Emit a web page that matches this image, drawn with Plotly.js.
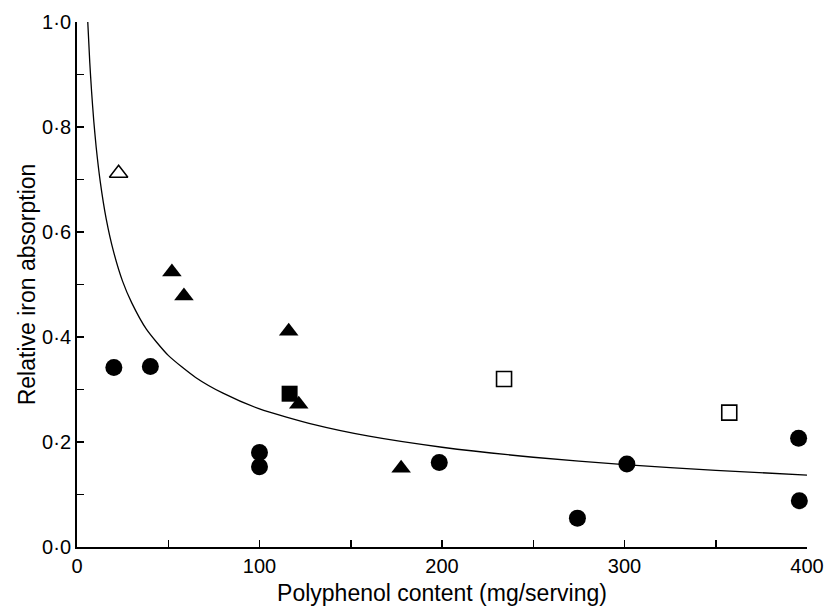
<!DOCTYPE html>
<html>
<head>
<meta charset="utf-8">
<script src="https://cdn.plot.ly/plotly-3.0.1.min.js"></script>
<style>
  html, body { margin: 0; padding: 0; background: #fff; }
  #chart { width: 827px; height: 606px; }
</style>
</head>
<body>
<div id="chart"></div>
<script>
// Filled circles
const circleX = [20.2, 40.2, 100, 100, 198.5, 274.2, 301.3, 395.4, 395.8];
const circleY = [0.342, 0.344, 0.180, 0.153, 0.161, 0.055, 0.158, 0.207, 0.088];
// Filled triangles
const triX = [52, 58.6, 116, 121.5, 177.6];
const triY = [0.524, 0.478, 0.411, 0.272, 0.150];
// Open triangle
const openTriX = [22.8];
const openTriY = [0.712];
// Filled square
const sqX = [116.5];
const sqY = [0.292];
// Open squares
const openSqX = [234, 357.4];
const openSqY = [0.320, 0.256];
// Fitted curve
const curveX = [5.9, 7, 8, 9.2, 10.5, 12.7, 16, 20, 25, 30, 38, 50, 65, 80, 100, 130, 160, 200, 250, 300, 350, 400];
const curveY = [1.000, 0.923, 0.867, 0.811, 0.762, 0.697, 0.625, 0.563, 0.506, 0.465, 0.415, 0.365, 0.323, 0.293, 0.263, 0.233, 0.211, 0.190, 0.171, 0.157, 0.146, 0.137];
// Tick labels
const xTickVals = [0, 100, 200, 300, 400];
const xTickText = ['0', '100', '200', '300', '400'];
const yTickVals = [0, 0.2, 0.4, 0.6, 0.8, 1.0];
const yTickText = ['0·0', '0·2', '0·4', '0·6', '0·8', '1·0'];

const FONT = 'Liberation Sans, Arial, Helvetica, sans-serif';

const traces = [
  { x: curveX, y: curveY, type: 'scatter', mode: 'lines', line: { color: '#000', width: 1.3, shape: 'spline', smoothing: 0.6 }, hoverinfo: 'skip', cliponaxis: false },
  { x: circleX, y: circleY, type: 'scatter', mode: 'markers', marker: { symbol: 'circle', size: 17, color: '#000', line: { width: 0 } }, cliponaxis: false },
  { x: triX, y: triY, type: 'scatter', mode: 'markers', marker: { symbol: 'triangle-up', size: 17, color: '#000', line: { width: 0 } }, cliponaxis: false },
  { x: openTriX, y: openTriY, type: 'scatter', mode: 'markers', marker: { symbol: 'triangle-up-open', size: 16, color: '#000', line: { width: 1.5, color: '#000' } }, cliponaxis: false },
  { x: sqX, y: sqY, type: 'scatter', mode: 'markers', marker: { symbol: 'square', size: 16, color: '#000', line: { width: 0 } }, cliponaxis: false },
  { x: openSqX, y: openSqY, type: 'scatter', mode: 'markers', marker: { symbol: 'square-open', size: 15, color: '#000', line: { width: 1.6, color: '#000' } }, cliponaxis: false }
];

const layout = {
  width: 827,
  height: 606,
  margin: { l: 77, r: 20, t: 22, b: 59 },
  paper_bgcolor: '#fff',
  plot_bgcolor: '#fff',
  showlegend: false,
  font: { family: FONT, color: '#000', size: 20 },
  xaxis: {
    range: [0, 400],
    showgrid: false,
    zeroline: false,
    showline: true,
    linecolor: '#000',
    linewidth: 2,
    ticks: 'inside',
    ticklen: 7,
    tickwidth: 1.5,
    tickcolor: '#000',
    tickvals: xTickVals,
    ticktext: xTickText,
    tickfont: { family: FONT, size: 20, color: '#000' },
    minor: { tickvals: [50, 150, 250, 350], ticks: 'inside', ticklen: 7, tickwidth: 1.5, tickcolor: '#000' },
    title: { text: 'Polyphenol content (mg/serving)', font: { family: FONT, size: 23, color: '#000' }, standoff: 10 },
    automargin: false,
    fixedrange: true
  },
  yaxis: {
    range: [0, 1],
    showgrid: false,
    zeroline: false,
    showline: true,
    linecolor: '#000',
    linewidth: 2,
    ticks: 'inside',
    ticklen: 7,
    tickwidth: 1.5,
    tickcolor: '#000',
    tickvals: yTickVals,
    ticktext: yTickText,
    tickfont: { family: FONT, size: 20, color: '#000' },
    minor: { tickvals: [0.1, 0.3, 0.5, 0.7, 0.9], ticks: 'inside', ticklen: 7, tickwidth: 1.5, tickcolor: '#000' },
    title: { text: 'Relative iron absorption', font: { family: FONT, size: 23, color: '#000' }, standoff: 0 },
    automargin: false,
    fixedrange: true
  }
};

Plotly.newPlot('chart', traces, layout, { displayModeBar: false, staticPlot: true });
</script>
</body>
</html>
